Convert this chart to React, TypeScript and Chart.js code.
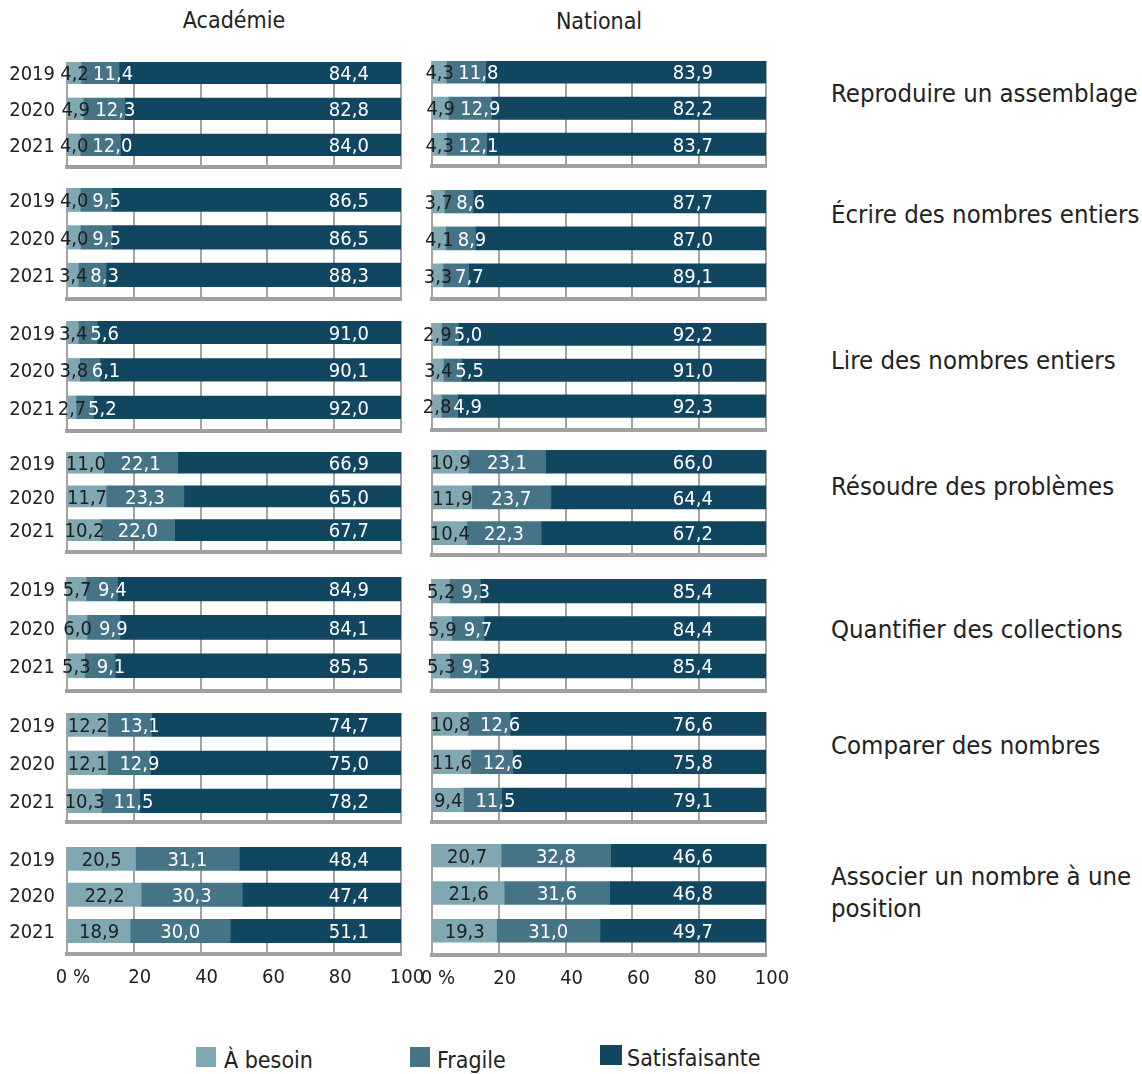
import React, { useEffect, useRef } from 'react';
import { Chart, registerables } from 'chart.js';

Chart.register(...registerables);

const FONT = "'DejaVu Sans Condensed', 'DejaVu Sans', 'Liberation Sans', Arial, sans-serif";

// ---------- data ----------
const YEARS = ['2019', '2020', '2021'];
const SKILLS = [
  ['Reproduire un assemblage'],
  ['Écrire des nombres entiers'],
  ['Lire des nombres entiers'],
  ['Résoudre des problèmes'],
  ['Quantifier des collections'],
  ['Comparer des nombres'],
  ['Associer un nombre à une', 'position'],
];
const SERIES = ['À besoin', 'Fragile', 'Satisfaisante'];
const X_TICKS = [0, 20, 40, 60, 80, 100];
const X_TICK_LABELS = ['0 %', '20', '40', '60', '80', '100'];
const PANEL_TITLES = ['Académie', 'National'];

const academieBesoin = [[4.2, 4.9, 4.0], [4.0, 4.0, 3.4], [3.4, 3.8, 2.7], [11.0, 11.7, 10.2], [5.7, 6.0, 5.3], [12.2, 12.1, 10.3], [20.5, 22.2, 18.9]];
const academieFragile = [[11.4, 12.3, 12.0], [9.5, 9.5, 8.3], [5.6, 6.1, 5.2], [22.1, 23.3, 22.0], [9.4, 9.9, 9.1], [13.1, 12.9, 11.5], [31.1, 30.3, 30.0]];
const academieSatisfaisante = [[84.4, 82.8, 84.0], [86.5, 86.5, 88.3], [91.0, 90.1, 92.0], [66.9, 65.0, 67.7], [84.9, 84.1, 85.5], [74.7, 75.0, 78.2], [48.4, 47.4, 51.1]];

const nationalBesoin = [[4.3, 4.9, 4.3], [3.7, 4.1, 3.3], [2.9, 3.4, 2.8], [10.9, 11.9, 10.4], [5.2, 5.9, 5.3], [10.8, 11.6, 9.4], [20.7, 21.6, 19.3]];
const nationalFragile = [[11.8, 12.9, 12.1], [8.6, 8.9, 7.7], [5.0, 5.5, 4.9], [23.1, 23.7, 22.3], [9.3, 9.7, 9.3], [12.6, 12.6, 11.5], [32.8, 31.6, 31.0]];
const nationalSatisfaisante = [[83.9, 82.2, 83.7], [87.7, 87.0, 89.1], [92.2, 91.0, 92.3], [66.0, 64.4, 67.2], [85.4, 84.4, 85.4], [76.6, 75.8, 79.1], [46.6, 46.8, 49.7]];

// ---------- styles / layout ----------
const COLORS = ['#80a8b2', '#467487', '#114660'];
const LABEL_COLORS = ['#1e1e1e', '#ffffff', '#ffffff'];
const TEXT = '#222222';
const PLOT_W = 334;
const PANEL_LEFT = [67, 432];
const DARK_LABEL_AT = [84.4, 78.1];
// per row: first bar centre, last bar centre, bottom line, bar thickness
const ROWS_A = [
  [72.7, 144.8, 167, 21.7],
  [200, 275, 299, 23.5],
  [332.3, 407.3, 431, 22.7],
  [462.7, 530.5, 552.5, 21.2],
  [588.7, 665.7, 691, 24],
  [724.5, 800.5, 821.5, 23.5],
  [858.3, 930.5, 953.5, 23.3],
];
const ROWS_N = [
  [72, 144.3, 166, 22.3],
  [201.3, 275.3, 299, 23],
  [334.5, 406.2, 430, 22.5],
  [461.7, 533.5, 555.5, 23.2],
  [591, 666, 691, 24],
  [724, 800, 822, 23.5],
  [855.3, 930.3, 954.5, 22.8],
];
const SKILL_LABEL_Y = [93, 214, 360, 486, 629, 745, 876];

const fmt = (v: number) => v.toFixed(1).replace('.', ',');

type PanelProps = {
  besoin: number[];
  fragile: number[];
  satis: number[];
  panel: number;
  row: number[];
  showTicks: boolean;
};

function Panel({ besoin, fragile, satis, panel, row, showTicks }: PanelProps) {
  const ref = useRef<HTMLCanvasElement | null>(null);
  const showYears = panel === 0;
  const [c0, c2, B, b] = row;
  const W = showYears ? 67 : 36;
  const PAD_R = 26;
  const PAD_T = 14;
  const XH = showTicks ? 42 : 6;
  const s = (c2 - c0) / 2;
  const T = c0 - b / 2;
  const yMin = -(b / 2) / s;
  const yMax = 2 + (B - c2) / s;
  const left = PANEL_LEFT[panel] - W;
  const top = T - PAD_T;
  const width = Math.round(W + PLOT_W + PAD_R);
  const height = Math.round(PAD_T + (B - T) + XH);

  useEffect(() => {
    if (!ref.current) return;
    const series = [besoin, fragile, satis];
    const labelPlugin = {
      id: 'segLabels',
      afterDatasetsDraw(chart: any) {
        const ctx = chart.ctx;
        const xs = chart.scales.x;
        ctx.save();
        ctx.font = `20px ${FONT}`;
        ctx.textBaseline = 'middle';
        ctx.textAlign = 'center';
        chart.data.datasets.forEach((ds: any, di: number) => {
          const meta = chart.getDatasetMeta(di);
          meta.data.forEach((bar: any, i: number) => {
            const v = ds.data[i].x;
            const txt = fmt(v);
            const w = ctx.measureText(txt).width;
            const p = bar.getProps(['x', 'y', 'base'], true);
            const mid = (p.x + p.base) / 2;
            let cx = mid;
            if (di === 1) cx = Math.max(mid, p.base + w / 2 + 12);
            if (di === 2) cx = xs.getPixelForValue(DARK_LABEL_AT[panel]);
            ctx.fillStyle = LABEL_COLORS[di];
            ctx.fillText(txt, cx, p.y + 2);
          });
        });
        ctx.restore();
      },
    };
    const chart = new Chart(ref.current, {
      type: 'bar',
      data: {
        datasets: series.map((vals, di) => ({
          label: SERIES[di],
          data: vals.map((v, i) => ({ x: v, y: i })),
          backgroundColor: COLORS[di],
          borderWidth: 0,
          barThickness: b,
          stack: 'one',
        })),
      },
      options: {
        indexAxis: 'y',
        animation: false,
        responsive: false,
        maintainAspectRatio: false,
        layout: { padding: { top: PAD_T, right: PAD_R, left: 0, bottom: 0 } },
        plugins: { legend: { display: false }, tooltip: { enabled: false } },
        scales: {
          x: {
            type: 'linear',
            min: 0,
            max: 100,
            stacked: true,
            offset: false,
            position: 'bottom',
            afterFit: (sc: any) => {
              sc.height = XH;
              sc.paddingLeft = 0;
              sc.paddingRight = 0;
            },
            afterBuildTicks: (sc: any) => {
              sc.ticks = X_TICKS.map((v) => ({ value: v }));
            },
            grid: { color: '#a3a3a3', lineWidth: 2, drawTicks: false, offset: false },
            border: { display: true, color: '#a0a0a0', width: 4 },
            ticks: {
              display: showTicks,
              padding: 12,
              labelOffset: 6,
              color: TEXT,
              maxRotation: 0,
              autoSkip: false,
              font: { family: FONT, size: 20 },
              callback: (v: any) => {
                const k = X_TICKS.indexOf(Number(v));
                return k >= 0 ? X_TICK_LABELS[k] : '';
              },
            },
          },
          y: {
            type: 'linear',
            reverse: true,
            min: yMin,
            max: yMax,
            stacked: true,
            offset: false,
            afterFit: (sc: any) => {
              sc.width = W;
              sc.paddingTop = 0;
              sc.paddingBottom = 0;
            },
            afterBuildTicks: (sc: any) => {
              sc.ticks = YEARS.map((_, i) => ({ value: i }));
            },
            grid: { display: false, offset: false },
            border: { display: false },
            ticks: {
              display: showYears,
              padding: 4,
              labelOffset: 2,
              color: TEXT,
              font: { family: FONT, size: 20 },
              callback: (v: any) => YEARS[Number(v)] ?? '',
            },
          },
        },
      },
      plugins: [labelPlugin],
    } as any);
    return () => chart.destroy();
  }, []);

  return (
    <canvas
      ref={ref}
      width={width}
      height={height}
      style={{ position: 'absolute', left, top, width, height }}
    />
  );
}

export default function App() {
  const A = [academieBesoin, academieFragile, academieSatisfaisante];
  const N = [nationalBesoin, nationalFragile, nationalSatisfaisante];
  const text = { fontFamily: FONT, color: TEXT, position: 'absolute' as const, whiteSpace: 'nowrap' as const };
  const legendX = [[196, 224], [410, 437], [600, 627]];
  return (
    <div style={{ position: 'absolute', left: 0, top: 0, width: 1142, height: 1074, background: '#fff', overflow: 'hidden' }}>
      {PANEL_TITLES.map((t, p) => (
        <div key={t} style={{ ...text, fontSize: 23, left: PANEL_LEFT[p], width: PLOT_W, top: 20 + p - 14, lineHeight: '28px', textAlign: 'center' }}>
          {t}
        </div>
      ))}
      {SKILLS.map((sk, r) => (
        <React.Fragment key={sk[0]}>
          <Panel besoin={A[0][r]} fragile={A[1][r]} satis={A[2][r]} panel={0} row={ROWS_A[r]} showTicks={r === SKILLS.length - 1} />
          <Panel besoin={N[0][r]} fragile={N[1][r]} satis={N[2][r]} panel={1} row={ROWS_N[r]} showTicks={r === SKILLS.length - 1} />
          <div style={{ ...text, fontSize: 25.5, lineHeight: '32px', left: 831, top: SKILL_LABEL_Y[r] - 16 }}>
            {sk.map((line) => (
              <div key={line}>{line}</div>
            ))}
          </div>
        </React.Fragment>
      ))}
      {SERIES.map((name, i) => (
        <React.Fragment key={name}>
          <div style={{ position: 'absolute', left: legendX[i][0], top: i === 2 ? 1045 : 1047, width: i === 2 ? 22 : 20, height: 20, background: COLORS[i] }} />
          <div style={{ ...text, fontSize: 23, lineHeight: '28px', left: legendX[i][1], top: (i === 2 ? 1058 : 1060) - 14 }}>{name}</div>
        </React.Fragment>
      ))}
    </div>
  );
}
